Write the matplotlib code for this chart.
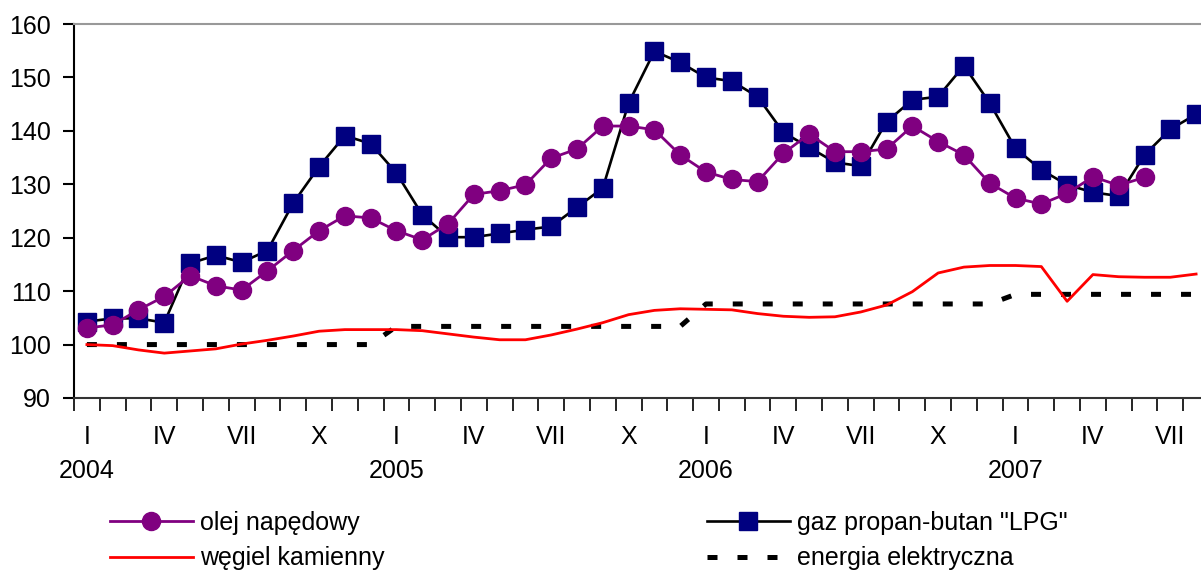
import matplotlib
matplotlib.use("Agg")
import matplotlib.pyplot as plt
from matplotlib.lines import Line2D

plt.rcParams['font.family'] = ['Liberation Sans', 'DejaVu Sans']

n_months = 44
month_ticks = ["I", "IV", "VII", "X"] * 3 + ["I", "IV", "VII"]
years = ["2004", "2005", "2006", "2007"]

olej = [103.1, 103.7, 106.5, 109.0, 112.9, 111.0, 110.2, 113.8, 117.6, 121.3,
        124.1, 123.7, 121.3, 119.6, 122.6, 128.1, 128.8, 129.9, 134.9, 136.6,
        140.9, 140.9, 140.2, 135.5, 132.3, 130.9, 130.5, 135.8, 139.4, 136.1,
        136.1, 136.6, 140.9, 138.0, 135.5, 130.2, 127.4, 126.3, 128.3, 131.4,
        129.8, 131.3]
lpg = [104.3, 104.9, 104.9, 104.1, 115.2, 116.7, 115.4, 117.6, 126.5, 133.3,
       139.1, 137.6, 132.1, 124.3, 120.1, 120.1, 120.8, 121.5, 122.1, 125.7,
       129.3, 145.2, 154.9, 152.8, 150.0, 149.3, 146.4, 139.7, 136.9, 134.1,
       133.4, 141.7, 145.8, 146.4, 152.2, 145.2, 136.7, 132.7, 129.9, 128.5,
       127.8, 135.5, 140.3, 143.1]
wegiel = [100.0, 99.8, 99.0, 98.4, 98.8, 99.2, 100.1, 100.8, 101.6, 102.5,
          102.8, 102.8, 102.8, 102.6, 102.0, 101.4, 100.9, 100.9, 101.8, 102.9,
          104.1, 105.6, 106.4, 106.7, 106.6, 106.5, 105.8, 105.3, 105.1, 105.2,
          106.1, 107.4, 109.9, 113.4, 114.5, 114.8, 114.8, 114.6, 108.1, 113.1,
          112.7, 112.6, 112.6, 113.2]
energia = [100.0] * 12 + [103.4] * 12 + [107.6] * 12 + [109.4] * 8

W, H = 1201, 570
fig = plt.figure(figsize=(W / 100, H / 100), dpi=100)
left_px, right_px, top_px, bot_px = 74, 1209, 24, 398
ax = fig.add_axes([left_px / W, 1 - bot_px / H, (right_px - left_px) / W, (bot_px - top_px) / H])

x_olej = list(range(len(olej)))
x_all = list(range(n_months))

ax.plot(x_all, energia, color='black', lw=3.6, dashes=(2, 4), solid_capstyle='butt',
        dash_capstyle='butt', zorder=2)
ax.plot(x_all, wegiel, color='#ff0000', lw=2.0, zorder=3)
ax.plot(x_all, lpg, color='black', lw=1.9, marker='s', ms=12.5, mfc='#000080',
        mec='#000080', zorder=4)
ax.plot(x_olej, olej, color='#800080', lw=2.0, marker='o', ms=13, mfc='#800080',
        mec='#800080', zorder=5)

ax.set_xlim(-0.5, n_months - 0.5)
ax.set_ylim(90, 160)
ax.set_yticks(range(90, 161, 10))
ax.tick_params(axis='y', labelsize=18, length=8, width=1.5, direction='out', pad=8.5)
ax.set_xticks([i - 0.5 for i in range(n_months + 1)])
ax.set_xticklabels([])
ax.tick_params(axis='x', length=9, width=1.2, direction='out')

ax.spines['right'].set_visible(False)
ax.spines['top'].set_color('#999999')
ax.spines['top'].set_linewidth(1.5)
ax.spines['left'].set_linewidth(1.5)
ax.spines['bottom'].set_linewidth(1.5)
ax.spines['bottom'].set_color('#333333')

trans = ax.get_xaxis_transform()
for k, lab in enumerate(month_ticks):
    ax.text(3 * k, -0.103, lab, transform=trans, ha='center', va='center', fontsize=18)
for k, lab in enumerate(years):
    ax.text(12 * k, -0.195, lab, transform=trans, ha='center', va='center', fontsize=18)

h_olej = Line2D([], [], color='#800080', lw=2.0, marker='o', ms=13, mfc='#800080', mec='#800080')
h_weg = Line2D([], [], color='#ff0000', lw=2.0)
h_lpg = Line2D([], [], color='black', lw=1.9, marker='s', ms=12.5, mfc='#000080', mec='#000080')
h_en = Line2D([], [], color='black', lw=3.6, dashes=(2, 4), dash_capstyle='butt')

common = dict(frameon=False, fontsize=18, handlelength=3.3, handletextpad=0.3,
              labelspacing=0.45, numpoints=1, borderpad=0, borderaxespad=0,
              loc='upper left')
leg1 = fig.legend([h_olej, h_weg], ['olej napędowy', 'węgiel kamienny'],
                  bbox_to_anchor=(110 / W, 1 - 511 / H), **common)
leg2 = fig.legend([h_lpg, h_en], ['gaz propan-butan "LPG"', 'energia elektryczna'],
                  bbox_to_anchor=(707 / W, 1 - 511 / H), **common)

fig.savefig('out.png', dpi=100)
